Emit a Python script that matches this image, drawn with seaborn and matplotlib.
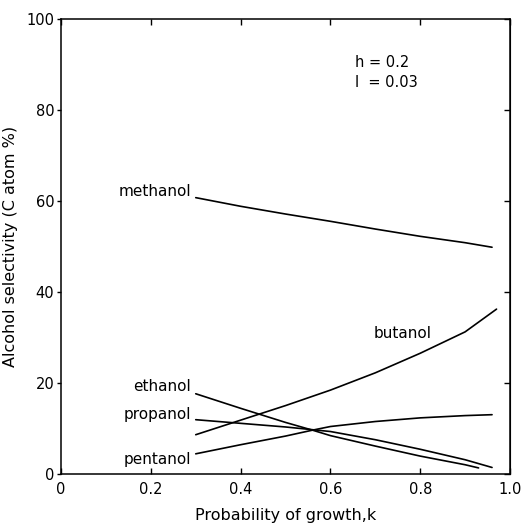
import pandas as pd
import matplotlib.pyplot as plt
import seaborn as sns

# values
k_methanol = [0.30, 0.40, 0.50, 0.60, 0.70, 0.80, 0.90, 0.96]
methanol = [60.7, 58.8, 57.1, 55.5, 53.8, 52.2, 50.8, 49.8]

k_ethanol = [0.30, 0.40, 0.50, 0.56, 0.60, 0.70, 0.80, 0.90, 0.93]
ethanol = [17.6, 14.4, 11.3, 9.6, 8.4, 6.1, 3.9, 2.0, 1.3]

k_propanol = [0.30, 0.40, 0.50, 0.56, 0.60, 0.70, 0.80, 0.90, 0.96]
propanol = [11.9, 11.1, 10.3, 9.7, 9.3, 7.5, 5.4, 3.1, 1.4]

k_butanol = [0.30, 0.40, 0.50, 0.60, 0.70, 0.80, 0.90, 0.97]
butanol = [8.6, 11.8, 15.0, 18.4, 22.2, 26.5, 31.2, 36.2]

k_pentanol = [0.30, 0.40, 0.50, 0.56, 0.60, 0.70, 0.80, 0.90, 0.96]
pentanol = [4.4, 6.4, 8.3, 9.6, 10.4, 11.5, 12.3, 12.8, 13.0]

x_ticks = [0, 0.2, 0.4, 0.6, 0.8, 1.0]
x_ticklabels = ['0', '0.2', '0.4', '0.6', '0.8', '1.0']
y_ticks = [0, 20, 40, 60, 80, 100]

series = [('methanol', k_methanol, methanol),
          ('ethanol', k_ethanol, ethanol),
          ('propanol', k_propanol, propanol),
          ('butanol', k_butanol, butanol),
          ('pentanol', k_pentanol, pentanol)]

rows = []
for name, ks, vals in series:
    for k, v in zip(ks, vals):
        rows.append({'alcohol': name, 'k': k, 'sel': v})
df = pd.DataFrame(rows)

sns.set_style('ticks')
plt.rcParams['font.family'] = ['DejaVu Sans']
for key in ['text.color', 'axes.labelcolor', 'xtick.color', 'ytick.color',
            'axes.edgecolor']:
    plt.rcParams[key] = 'black'

fig = plt.figure(figsize=(5.22, 5.23), dpi=100)
ax = fig.add_axes([0.117, 0.094, 0.860, 0.870])

sns.lineplot(data=df, x='k', y='sel', hue='alcohol',
             palette={name: 'black' for name, _, _ in series},
             estimator=None, legend=False, linewidth=1.2, ax=ax)

ax.set_xlim(0, 1.0)
ax.set_ylim(0, 100)
ax.set_xticks(x_ticks)
ax.set_xticklabels(x_ticklabels)
ax.set_yticks(y_ticks)

ax.tick_params(axis='x', direction='in', top=True, length=4, width=1,
               labelsize=10.5, pad=6)
ax.tick_params(axis='y', direction='out', length=3, width=1,
               labelsize=10.5, pad=2)
right = ax.secondary_yaxis('right')
right.set_yticks(y_ticks)
right.tick_params(direction='in', length=4, width=1, labelright=False)

for s in ax.spines.values():
    s.set_linewidth(1.1)

ax.set_xlabel('Probability of growth,k', fontsize=11.5, labelpad=8)
ax.set_ylabel('Alcohol selectivity (C atom %)', fontsize=11.5, labelpad=6)

# curve labels
lab = dict(fontsize=11, ha='right', va='center')
ax.text(0.29, 62, 'methanol', **lab)
ax.text(0.29, 19.2, 'ethanol', **lab)
ax.text(0.29, 13.0, 'propanol', **lab)
ax.text(0.29, 3.1, 'pentanol', **lab)
ax.text(0.76, 30.8, 'butanol', fontsize=11, ha='center', va='center')

ax.text(0.655, 90.3, 'h = 0.2', fontsize=10.5, va='center')
ax.text(0.655, 86.0, 'l  = 0.03', fontsize=10.5, va='center')

fig.savefig('out.png', dpi=100)
